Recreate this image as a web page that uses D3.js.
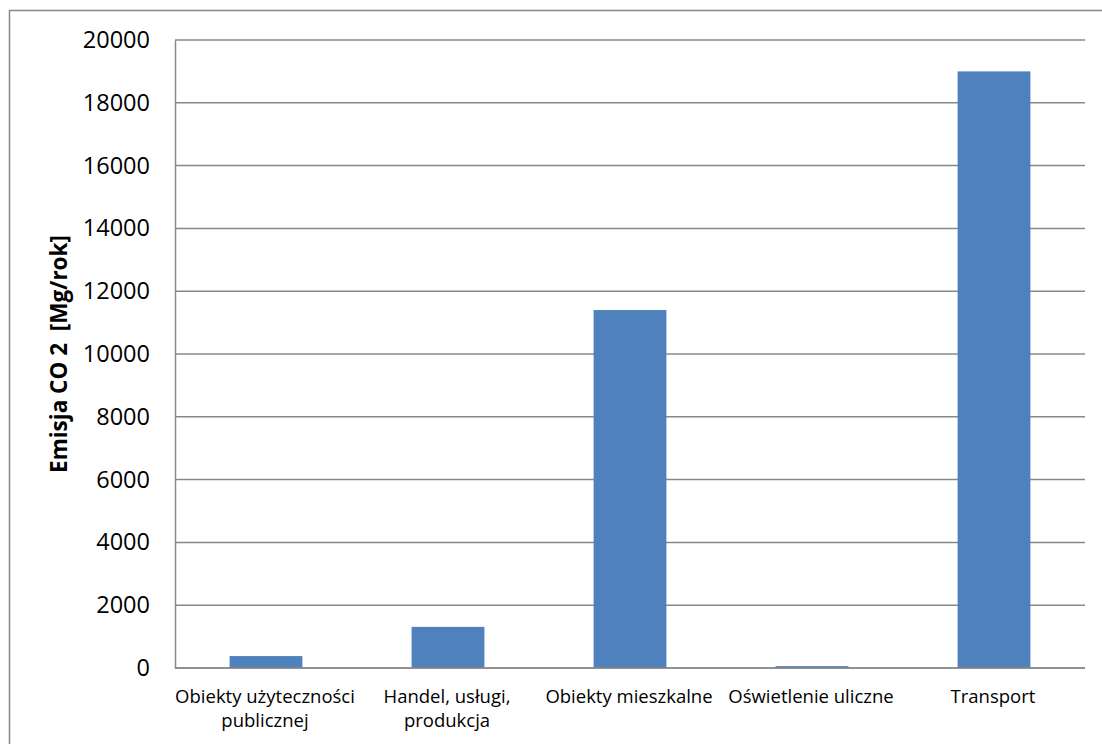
<!DOCTYPE html>
<html>
<head>
<meta charset="utf-8">
<script src="https://cdn.jsdelivr.net/npm/d3@7"></script>
<style>
  body { margin: 0; background: #fff; }
  svg text { font-family: "Open Sans", "Liberation Sans", sans-serif; fill: #000; }
</style>
</head>
<body>
<svg id="chart" width="1102" height="744"></svg>
<script>
// sectors and their CO2 emission, Mg/rok
const categories = [
    ["Obiekty użyteczności", "publicznej"],
    ["Handel, usługi,", "produkcja"],
    ["Obiekty mieszkalne"],
    ["Oświetlenie uliczne"],
    ["Transport"]
];
const values = [380, 1310, 11400, 60, 19000];
const yTicks = [0, 2000, 4000, 6000, 8000, 10000, 12000, 14000, 16000, 18000, 20000];
const yTitle = "Emisja CO 2  [Mg/rok]";

const plotLeft = 175, plotTop = 40, plotRight = 1085, plotBottom = 668;
const svg = d3.select("#chart");

// outer frame (right/bottom edges fall outside the picture)
svg.append("rect")
    .attr("x", 9.5).attr("y", 10.5)
    .attr("width", 1200).attr("height", 900)
    .attr("fill", "none")
    .attr("stroke", "#888").attr("stroke-width", 1.5);

var x = d3.scaleBand()
    .domain(d3.range(categories.length))
    .range([plotLeft, plotRight])
    .paddingInner(0.6)
    .paddingOuter(0.3);

var y = d3.scaleLinear().domain([0, 20000]).range([plotBottom, plotTop]);

// grid lines
svg.append("g").selectAll("line")
    .data(yTicks)
    .enter()
    .append("line")
    .attr("x1", plotLeft).attr("x2", plotRight)
    .attr("y1", function(d) { return y(d); })
    .attr("y2", function(d) { return y(d); })
    .attr("stroke", "#888").attr("stroke-width", 1.5);

// bars
svg.append("g").selectAll("rect")
    .data(values)
    .enter()
    .append("rect")
    .attr("x", function(d, i) { return x(i); })
    .attr("y", function(d) { return y(d); })
    .attr("width", x.bandwidth())
    .attr("height", function(d) { return y(0) - y(d); })
    .attr("fill", "#4f81bd");

// y axis
var yAxis = d3.axisLeft(y)
    .tickValues(yTicks)
    .tickFormat(d3.format("d"))
    .tickSize(0)
    .tickPadding(25);
var gy = svg.append("g")
    .attr("transform", "translate(" + plotLeft + ",0)")
    .call(yAxis);
gy.select(".domain").attr("stroke", "#888").attr("stroke-width", 1.5);
gy.selectAll("text")
    .attr("font-size", 23.5)
    .attr("font-family", "'Open Sans', sans-serif");

// baseline
svg.append("line")
    .attr("x1", plotLeft).attr("x2", plotRight)
    .attr("y1", plotBottom).attr("y2", plotBottom)
    .attr("stroke", "#888").attr("stroke-width", 1.5);

// category labels
var step = (plotRight - plotLeft) / categories.length;
var labels = svg.append("g").selectAll("text")
    .data(categories)
    .enter()
    .append("text")
    .attr("text-anchor", "middle")
    .attr("font-size", 18.5)
    .attr("x", function(d, i) { return plotLeft + step * (i + 0.5) - 1; })
    .attr("y", 703);
labels.selectAll("tspan")
    .data(function(d) { return d; })
    .enter()
    .append("tspan")
    .attr("x", function() { return d3.select(this.parentNode).attr("x"); })
    .attr("dy", function(d, i) { return i ? 24 : 0; })
    .text(function(d) { return d; });

// y title
svg.append("text")
    .attr("transform", "translate(67," + ((plotTop + plotBottom) / 2) + ") rotate(-90)")
    .attr("text-anchor", "middle")
    .attr("font-size", 22.5)
    .attr("font-weight", "bold")
    .style("white-space", "pre")
    .text(yTitle);
</script>
</body>
</html>
